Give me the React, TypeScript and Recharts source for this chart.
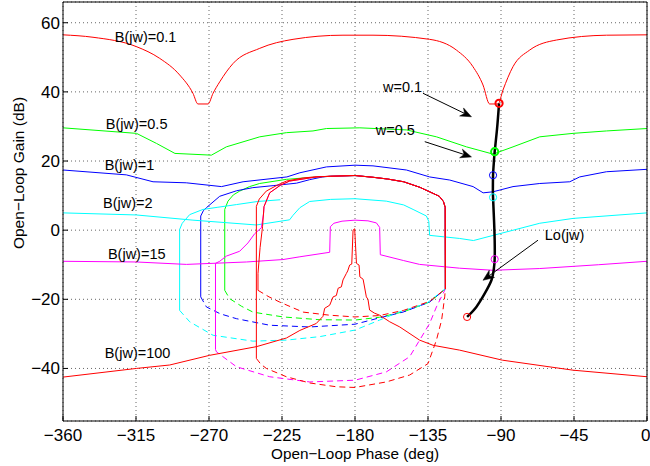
import React from 'react';
import {
  LineChart,
  Line,
  XAxis,
  YAxis,
  CartesianGrid,
  ReferenceLine,
  ReferenceDot,
} from 'recharts';

type Pt = [number, number];

const FONT = '"Liberation Sans", Arial, Helvetica, sans-serif';
const RED = '#ff0000';
const GREEN = '#00ff00';
const BLUE = '#0000ff';
const CYAN = '#00ffff';
const MAGENTA = '#ff00ff';

const phaseTicks = [-360, -315, -270, -225, -180, -135, -90, -45, 0];
const gainTicks = [-40, -20, 0, 20, 40, 60];

// B(jw)=0.1
const b01: Pt[] = [
  [-360, 56.5], [-341.5, 55.8], [-314.8, 53.1], [-300.4, 49.7], [-288.1, 44.9], [-279.9, 39.6],
  [-276.8, 36.5], [-270.6, 36.5], [-267.5, 39.6], [-263.4, 42.9], [-255.2, 48.2], [-238.7, 52.6],
  [-218.2, 55.2], [-187.4, 56.4], [-168.9, 56.4], [-134, 55.2], [-117.5, 52.1], [-107.3, 47.3],
  [-101.1, 42.0], [-97, 36.5], [-91.8, 36.5], [-88.8, 40.5], [-82.6, 47.3], [-72.3, 52.1],
  [-55.8, 55.0], [-25, 56.4], [0, 56.5],
];

// B(jw)=0.5
const b05Outer: Pt[] = [
  [-360, 29.6], [-314.7, 28.0], [-302.4, 25.1], [-291, 22.2], [-268.5, 21.7], [-259.3, 24.1],
  [-238.7, 27.0], [-222.3, 28.2], [-205.9, 28.7], [-197.6, 29.4], [-177, 29.6], [-148.3, 29.0],
  [-129.8, 27.0], [-111.3, 24.1], [-94.9, 22.0], [-82.6, 24.1], [-66.1, 27.0], [-45.6, 28.0],
  [-25, 28.7], [0, 29.4],
];
const b05Inner: Pt[] = [
  [-260.3, -17.4], [-260.3, 6.0], [-258.3, 8.4], [-255, 10.2], [-251.1, 11.3], [-245, 12.6],
  [-238.8, 13.5], [-222.3, 14.7], [-205.9, 15.3],
];
const b05Lower: Pt[] = [
  [-260.3, -17.4], [-257.3, -19.8], [-250, -22.0], [-242.9, -23.7], [-224.4, -25.1], [-201.8, -25.9],
  [-180, -26.0], [-165, -25.2], [-150, -23.6], [-134, -20.8], [-124.3, -17.0],
];

// B(jw)=1
const b1Outer: Pt[] = [
  [-360, 17.4], [-321, 16.0], [-304.5, 14.0], [-284, 13.7], [-262.3, 12.6], [-249, 14.0],
  [-222, 15.4], [-214, 16.6], [-197.6, 18.3], [-180, 18.8], [-168.9, 18.6], [-148.3, 17.4],
  [-134, 15.4], [-121.6, 14.5], [-107.2, 12.6], [-101, 10.8], [-94.9, 11.1], [-82.6, 12.6],
  [-66.1, 13.5], [-47.6, 14.0], [-41.5, 15.4], [-25, 16.9], [0, 17.6],
];
const b1Inner: Pt[] = [
  [-275.1, -19.3], [-275.1, 4.1], [-273.5, 5.6], [-271.6, 6.5], [-263.4, 9.8], [-253, 11.4],
  [-243, 12.3], [-230, 12.9], [-216, 13.6], [-208, 14.6], [-200, 15.4],
];
const b1Lower: Pt[] = [
  [-275.1, -19.3], [-271.6, -22.2], [-263, -24.2], [-253.1, -25.6], [-232.6, -27.5], [-207.9, -28.0],
  [-180, -27.2], [-162.7, -25.1], [-150.4, -23.7], [-134, -20.8], [-124.3, -17.0],
];

// B(jw)=2
const b2Outer: Pt[] = [
  [-360, 5.0], [-314.8, 4.4], [-279.9, 2.9], [-240.8, 1.5], [-220.3, 3.0], [-218.2, 4.3],
  [-214, 6.5], [-207.9, 8.3], [-195, 8.9], [-180, 9.1], [-160.7, 8.4], [-150, 7.3], [-144.2, 6.0],
  [-136, 4.1], [-134.5, 2.5], [-134, -1.5], [-115.5, -2.4], [-107, -3.0], [-66.1, 2.0],
  [-45.6, 3.4], [0, 5.0],
];
const b2Inner: Pt[] = [
  [-226, 8.8], [-240, 8.3], [-253.1, 7.4], [-265, 6.6], [-273.7, 6.0], [-281.9, 4.5],
  [-286.5, 2.0], [-288.1, 0.2], [-288.1, -23.2],
];
const b2Lower: Pt[] = [
  [-288.1, -23.2], [-281.9, -26.5], [-267.5, -30.4], [-242.9, -32.1], [-222.3, -31.8], [-201.8, -30.8],
  [-180, -28.9], [-164.8, -26.0], [-152.4, -23.6], [-136, -21.2], [-124.5, -17.0],
];

// B(jw)=15
const b15Outer: Pt[] = [
  [-360, -9.0], [-314.8, -9.2], [-283.9, -9.9], [-246.9, -9.2], [-224.4, -8.5], [-214, -7.7],
  [-195.6, -6.4], [-195.2, 1.0], [-193, 2.0], [-188, 2.6], [-180, 2.9], [-172, 2.7], [-166.8, 2.1],
  [-164.8, 0.8], [-164.4, -7.1], [-150, -8.8], [-140.2, -9.9], [-115.5, -11.0], [-94.9, -11.6],
  [-66.1, -11.1], [-30, -10.0], [0, -9.0],
];
const b15Inner: Pt[] = [
  [-266, -34.5], [-266, -9.6], [-263.4, -9.0], [-259.3, -7.5], [-251.1, -6.1], [-246, -3.7],
  [-241.8, -1.0], [-237.7, 0.7], [-236.3, 5.0], [-236.1, 6.8], [-232.6, 10.8], [-226, 13.0],
  [-220.3, 14.2], [-203.8, 15.4],
];
const b15Lower: Pt[] = [
  [-266, -34.5], [-265.4, -35.2], [-253.1, -39.5], [-232.6, -42.4], [-207.9, -43.9], [-180, -43.4],
  [-160.7, -41.0], [-146.3, -36.6], [-134, -27.0], [-129.8, -22.2], [-124.5, -17.2],
];

// two more closed bounds (red)
const r1Inner: Pt[] = [
  [-240.8, -37.1], [-240.8, 6.9], [-239, 9.0], [-234.7, 11.3], [-228, 13.0], [-222.3, 14.2],
  [-212, 15.1], [-205, 15.4],
];
const r1Lower: Pt[] = [
  [-240.8, -37.1], [-238, -38.8], [-234.6, -40.0], [-222.3, -42.4], [-207.9, -44.2], [-191.5, -45.3],
  [-180, -45.5], [-160.7, -43.9], [-146.3, -41.9], [-135, -38.6], [-129.8, -31.8], [-126.6, -26.0],
  [-124.7, -19.3], [-124.3, -17.0],
];
const r2Inner: Pt[] = [
  [-239.8, -17.4], [-239.8, -12.5], [-238.5, -5.0], [-237, 1.0], [-236.1, 6.8], [-232.6, 10.8],
  [-226, 13.0], [-220.3, 14.2], [-203.8, 15.4],
];
const r2Lower: Pt[] = [
  [-239.8, -17.4], [-233, -19.3], [-226.4, -20.8], [-212, -23.7], [-195.6, -24.6], [-180, -25.1],
  [-165, -24.7], [-150, -23.2], [-134, -20.6], [-124.3, -17.0],
];

// shared top arc and right edge of the closed bounds
const arcTop: Pt[] = [
  [-195, 15.6], [-180, 15.8], [-168.9, 15.3], [-160, 14.8], [-150, 14.0], [-140, 12.4],
  [-134, 11.1], [-128, 9.8], [-125.5, 8.3], [-124.4, 6.6], [-124.3, -17.0],
];

// B(jw)=100
const b100: Pt[] = [
  [-360, -42.5], [-314.8, -40.0], [-294.2, -39.0], [-269.6, -36.2], [-240.8, -33.7], [-222.3, -31.2],
  [-214, -29.0], [-203.9, -27.0], [-199.7, -24.9], [-198.7, -22.6], [-195.6, -21.7], [-193.5, -19.3],
  [-191.5, -18.9], [-190.4, -16.8], [-188.4, -16.4], [-187.4, -14.4], [-185.3, -12.5], [-184.5, -11.8],
  [-183.3, -10.1], [-182, -9.8], [-181.2, 0], [-180.2, 0.4], [-179.1, -9.6], [-177.5, -10.1],
  [-177, -13.5], [-175, -14.2], [-173, -19.3], [-172, -20.0], [-171, -23.1], [-168, -24.0],
  [-164.8, -24.6], [-158.6, -26.5], [-152.4, -28.0], [-140.2, -31.8], [-131.9, -33.3],
  [-115.5, -34.7], [-89.2, -37.6], [-45.6, -40.5], [0, -42.4],
];

// open loop Lo(jw)
const lo: Pt[] = [
  [-91.2, 36.7], [-92.5, 29.0], [-93.9, 22.7], [-94.5, 19.0], [-94.9, 15.9], [-95, 12.0],
  [-94.9, 9.5], [-94.3, 2.9], [-93.9, -2.9], [-93.9, -8.4], [-94.5, -11.5], [-95.9, -14.5],
  [-100, -18.3], [-105.2, -22.2], [-110.9, -25.1],
];
// Lo(jw) at w = 0.1, 0.5, 1, 2, 15, 100
const loMarks: Pt[] = [
  [-91.2, 36.7], [-93.9, 22.7], [-94.9, 15.9], [-94.9, 9.5], [-93.9, -8.4], [-110.9, -25.1],
];
const markColors = [RED, GREEN, BLUE, CYAN, MAGENTA, RED];
const markWidths = [2, 2, 1, 1, 1, 1];

const series = [
  { id: 'b01', pts: b01, color: RED, dash: false, smooth: true },
  { id: 'b05o', pts: b05Outer, color: GREEN, dash: false, smooth: false },
  { id: 'b05i', pts: [...b05Inner, ...arcTop], color: GREEN, dash: false, smooth: false },
  { id: 'b05l', pts: b05Lower, color: GREEN, dash: true, smooth: false },
  { id: 'b1o', pts: b1Outer, color: BLUE, dash: false, smooth: false },
  { id: 'b1i', pts: [...b1Inner, ...arcTop], color: BLUE, dash: false, smooth: false },
  { id: 'b1l', pts: b1Lower, color: BLUE, dash: true, smooth: false },
  { id: 'b2o', pts: b2Outer, color: CYAN, dash: false, smooth: false },
  { id: 'b2i', pts: b2Inner, color: CYAN, dash: false, smooth: false },
  { id: 'b2l', pts: b2Lower, color: CYAN, dash: true, smooth: false },
  { id: 'b15o', pts: b15Outer, color: MAGENTA, dash: false, smooth: false },
  { id: 'b15i', pts: [...b15Inner, ...arcTop], color: MAGENTA, dash: false, smooth: false },
  { id: 'b15l', pts: b15Lower, color: MAGENTA, dash: true, smooth: false },
  { id: 'r1i', pts: [...r1Inner, ...arcTop], color: RED, dash: false, smooth: false },
  { id: 'r1l', pts: r1Lower, color: RED, dash: true, smooth: false },
  { id: 'r2i', pts: [...r2Inner, ...arcTop], color: RED, dash: false, smooth: false },
  { id: 'r2l', pts: r2Lower, color: RED, dash: true, smooth: false },
  { id: 'b100', pts: b100, color: RED, dash: false, smooth: false },
];

const notes = [
  { text: 'B(jw)=0.1', x: -328.1, y: 54.5 },
  { text: 'B(jw)=0.5', x: -333.6, y: 29.2 },
  { text: 'B(jw)=1', x: -334.3, y: 17.4 },
  { text: 'B(jw)=2', x: -335.3, y: 6.3 },
  { text: 'B(jw)=15', x: -332.3, y: -8.2 },
  { text: 'B(jw)=100', x: -334.3, y: -37.1 },
  { text: 'w=0.1', x: -162.7, y: 40.0 },
  { text: 'w=0.5', x: -167.2, y: 27.5 },
  { text: 'Lo(jw)', x: -63, y: -2.9 },
];

const arrows = [
  { from: { x: -138.1, y: 39.6 }, to: { x: -108.2, y: 32.8 } },
  { from: { x: -137.0, y: 25.6 }, to: { x: -108.2, y: 21.2 } },
  { from: { x: -67.2, y: -2.9 }, to: { x: -101.1, y: -14.5 } },
];

const toRows = (pts: Pt[]) => pts.map(([x, y]) => ({ x, y }));
const fmt = (v: number) => String(v).replace('-', '\u2212');

const arrowShape = (p: any) => {
  const { x1, y1, x2, y2 } = p;
  const dx = x2 - x1;
  const dy = y2 - y1;
  const len = Math.hypot(dx, dy) || 1;
  const ux = dx / len;
  const uy = dy / len;
  const L = 11;
  const W = 4.5;
  const bx = x2 - ux * L;
  const by = y2 - uy * L;
  const nx = x2 - ux * L * 0.7;
  const ny = y2 - uy * L * 0.7;
  const head = `${x2},${y2} ${bx - uy * W},${by + ux * W} ${nx},${ny} ${bx + uy * W},${by - ux * W}`;
  return (
    <g>
      <line x1={x1} y1={y1} x2={nx} y2={ny} stroke="#000" strokeWidth={1} />
      <polygon points={head} fill="#000" stroke="#000" strokeWidth={0.5} />
    </g>
  );
};

const tickStyle = { fontSize: 17, fontFamily: FONT, fill: '#000' };

export default function App() {
  return (
    <div style={{ position: 'absolute', left: 0, top: 0, width: 650, height: 466, background: '#fff' }}>
      <LineChart width={650} height={466} margin={{ top: 1, right: 2, bottom: 0, left: 0 }}>
        <CartesianGrid stroke="#666" strokeDasharray="1 3" />
        <XAxis
          dataKey="x"
          type="number"
          domain={[-360, 0]}
          allowDataOverflow
          ticks={phaseTicks}
          tickFormatter={fmt}
          tick={tickStyle}
          tickSize={-5}
          tickMargin={13}
          height={45}
          axisLine={{ stroke: '#000' }}
          tickLine={{ stroke: '#000' }}
        />
        <XAxis
          xAxisId="top"
          orientation="top"
          type="number"
          domain={[-360, 0]}
          allowDataOverflow
          ticks={phaseTicks}
          tick={false}
          tickSize={-5}
          height={1}
          axisLine={{ stroke: '#000' }}
          tickLine={{ stroke: '#000' }}
        />
        <YAxis
          type="number"
          domain={[-55.2, 66]}
          allowDataOverflow
          ticks={gainTicks}
          tickFormatter={fmt}
          tick={tickStyle}
          tickSize={-5}
          tickMargin={8}
          width={63}
          axisLine={{ stroke: '#000' }}
          tickLine={{ stroke: '#000' }}
        />
        <YAxis
          yAxisId="right"
          orientation="right"
          type="number"
          domain={[-55.2, 66]}
          allowDataOverflow
          ticks={gainTicks}
          tick={false}
          tickSize={-5}
          width={1}
          axisLine={{ stroke: '#000' }}
          tickLine={{ stroke: '#000' }}
        />
        {series.map((s) => (
          <Line
            key={s.id}
            data={toRows(s.pts)}
            dataKey="y"
            type={s.smooth ? 'monotone' : 'linear'}
            stroke={s.color}
            strokeWidth={1}
            strokeDasharray={s.dash ? '6 4' : undefined}
            dot={false}
            activeDot={false}
            isAnimationActive={false}
          />
        ))}
        <Line
          data={toRows(lo)}
          dataKey="y"
          type="natural"
          stroke="#000"
          strokeWidth={2.5}
          dot={false}
          activeDot={false}
          isAnimationActive={false}
        />
        {loMarks.map(([x, y], i) => (
          <ReferenceDot
            key={'m' + i}
            x={x}
            y={y}
            r={3.6}
            fill="none"
            stroke={markColors[i]}
            strokeWidth={markWidths[i]}
          />
        ))}
        {arrows.map((a, i) => (
          <ReferenceLine key={'a' + i} segment={[a.from, a.to]} shape={arrowShape} />
        ))}
        {notes.map((n) => (
          <ReferenceDot
            key={n.text}
            x={n.x}
            y={n.y}
            r={0}
            shape={(p: any) => (
              <text x={p.cx} y={p.cy} fontSize={14.5} fontFamily={FONT} fill="#000">
                {n.text}
              </text>
            )}
          />
        ))}
      </LineChart>
      <div
        style={{
          position: 'absolute',
          left: 18,
          top: 173,
          transform: 'translate(-50%, -50%) rotate(-90deg)',
          whiteSpace: 'nowrap',
          font: `15.5px ${FONT}`,
          lineHeight: '15px',
        }}
      >
        Open{'\u2212'}Loop Gain (dB)
      </div>
      <div
        style={{
          position: 'absolute',
          left: 355,
          top: 446,
          transform: 'translateX(-50%)',
          whiteSpace: 'nowrap',
          font: `15.3px ${FONT}`,
          lineHeight: '15px',
        }}
      >
        Open{'\u2212'}Loop Phase (deg)
      </div>
    </div>
  );
}
